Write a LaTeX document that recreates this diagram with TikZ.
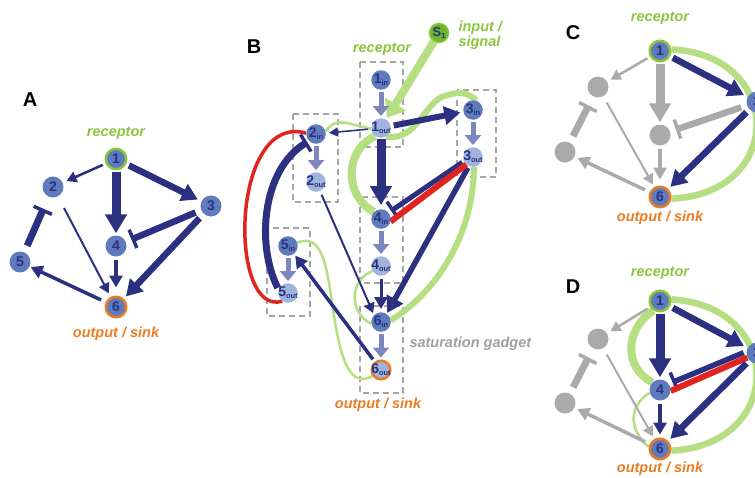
\documentclass[tikz,border=0pt]{standalone}
\usepackage{fontspec}
\setmainfont{Liberation Sans}
\setsansfont{Liberation Sans}
\usetikzlibrary{arrows.meta}
\definecolor{navy}{RGB}{43,49,128}
\definecolor{ablue}{RGB}{96,122,190}
\definecolor{inblue}{RGB}{96,122,190}
\definecolor{outblue}{RGB}{160,180,222}
\definecolor{numblue}{RGB}{38,52,128}
\definecolor{gadget}{RGB}{125,135,190}
\definecolor{lgreen}{RGB}{182,222,130}
\definecolor{tgreen}{RGB}{140,198,63}
\definecolor{sgreen}{RGB}{112,180,42}
\definecolor{orng}{RGB}{236,124,34}
\definecolor{redc}{RGB}{226,36,30}
\definecolor{greyc}{RGB}{170,170,170}
\definecolor{boxg}{RGB}{165,165,165}
\definecolor{txtgrey}{RGB}{160,160,160}
\pgfdeclarelayer{back}
\pgfdeclarelayer{mid}
\pgfsetlayers{back,mid,main}
\newcommand\sbx[1]{\raisebox{-2pt}{\fontsize{7.5}{7.5}\selectfont #1}}
\newcommand\nlab[2]{\makebox[0pt][c]{#1\sbx{#2}}}
\tikzset{
  nd/.style={circle, fill=ablue, minimum size=21pt, inner sep=0pt, text=numblue, font=\bfseries\fontsize{14}{14}\selectfont},
  ndi/.style={nd, fill=inblue, minimum size=19.5pt},
  ndo/.style={nd, fill=outblue, minimum size=19.5pt},
  gn/.style={circle, fill=greyc, minimum size=21pt, inner sep=0pt},
  recn/.style={nd, draw=tgreen, line width=2.5pt, minimum size=20.5pt},
  snkn/.style={nd, draw=orng, line width=2.5pt, minimum size=20.5pt},
  snko/.style={ndo, draw=orng, line width=2.5pt, minimum size=18.5pt},
  sig/.style={circle, fill=sgreen, draw=tgreen, line width=1.5pt, minimum size=19pt, inner sep=0pt, text=numblue, font=\bfseries\fontsize{13}{13}\selectfont},
  panel/.style={font=\bfseries\fontsize{20}{20}\selectfont, text=black},
  lbl/.style={font=\bfseries\itshape\fontsize{14.5}{16}\selectfont},
  lblg/.style={lbl, text=tgreen},
  lblo/.style={lbl, text=orng},
  lbls/.style={lbl, text=txtgrey},
  gbox/.style={draw=boxg, line width=2.5pt, dash pattern=on 6pt off 4pt},
  aT/.style={line width=2.2pt, -{Triangle[length=10pt,width=11pt]}, shorten <=3pt, shorten >=3pt},
  aM/.style={line width=3.5pt, -{Triangle[length=12pt,width=13pt]}, shorten <=3pt, shorten >=3pt},
  aK/.style={line width=6.5pt, -{Triangle[length=16pt,width=18pt]}, shorten <=3pt, shorten >=3pt},
  aX/.style={line width=9pt, -{Triangle[length=19pt,width=21pt]}, shorten <=1pt, shorten >=2pt},
  iK/.style={line width=6.5pt, -{Bar[width=20pt,line width=3.5pt]}, shorten <=6pt, shorten >=6pt},
  gad/.style={draw=gadget, line width=5pt, -{Triangle[length=10pt,width=16pt]}, shorten >=2pt, shorten <=2pt},
  gband/.style={draw=lgreen, line width=7pt},
  gthin/.style={draw=lgreen, line width=2.5pt},
  rband/.style={draw=redc, line width=6pt},
}
\begin{document}
\begin{tikzpicture}[x=1pt,y=-1pt]
\useasboundingbox (0,0) rectangle (755,477);
\begin{pgfonlayer}{back}
\fill[white] (0,0) rectangle (755,477);
\end{pgfonlayer}

%% ---------------- Panel A ----------------
\node[panel] (LA) at (30,100) {A};
\node[lblg] (rA) at (116,133) {receptor};
\node[recn] (A1) at (116,159) {1};
\node[nd] (A2) at (53,187) {2};
\node[nd] (A3) at (211,206) {3};
\node[nd] (A4) at (116,246) {4};
\node[nd] (A5) at (20,262) {5};
\node[snkn] (A6) at (116,307) {6};
\node[lblo] (oA) at (116,334) {output / sink};
\begin{pgfonlayer}{mid}
\draw[aT, navy, line width=2.5pt, shorten >=4pt] (A1) -- (A2);
\draw[aX, navy] (A1) -- (A4);
\draw[aK, navy, shorten >=4pt] (A1) -- (A3);
\draw[iK, navy] (A3) -- (A4);
\draw[aK, navy, shorten <=6pt] (A3) -- (A6);
\draw[aT, navy, line width=2pt, shorten <=13pt, shorten >=4pt] (A2) -- (A6);
\draw[aM, navy, shorten >=8pt] (A4) -- (A6);
\draw[aM, navy, shorten <=5pt, shorten >=1pt] (A6) -- (A5);
\draw[iK, navy, line width=7pt, shorten <=7pt, shorten >=13pt] (A5) -- (A2);
\end{pgfonlayer}

%% ---------------- Panel B ----------------
\node[panel] (LB) at (254,47) {B};
\node[sig] (S1) at (439,33) {\nlab{S}{1}};
\node[lblg, anchor=west, align=left] (sigl) at (455,35) {input /\\[-1pt]signal};
\node[lblg] (rB) at (382,49) {receptor};
\node[ndi] (B1i) at (381,80) {\nlab{1}{in}};
\node[ndo] (B1o) at (381,128) {\nlab{1}{out}};
\node[ndi] (B2i) at (316,134) {\nlab{2}{in}};
\node[ndo] (B2o) at (316,182) {\nlab{2}{out}};
\node[ndi] (B3i) at (473,110) {\nlab{3}{in}};
\node[ndo] (B3o) at (473,157) {\nlab{3}{out}};
\node[ndi] (B4i) at (381,219) {\nlab{4}{in}};
\node[ndo] (B4o) at (381,266) {\nlab{4}{out}};
\node[ndi] (B5i) at (288,246) {\nlab{5}{in}};
\node[ndo] (B5o) at (288,293) {\nlab{5}{out}};
\node[ndi] (B6i) at (381,322) {\nlab{6}{in}};
\node[snko] (B6o) at (381,370) {\nlab{6}{out}};
\node[lbls, anchor=west] (sat) at (406,344) {saturation gadget};
\node[lblo] (oB) at (378,405) {output / sink};
\begin{pgfonlayer}{back}
\draw[gbox] (360,62) rectangle (403,147);
\draw[gbox] (293,114) rectangle (338,202);
\draw[gbox] (457,90) rectangle (496,177);
\draw[gbox] (360,197) rectangle (403,283);
\draw[gbox] (267,228) rectangle (310,316);
\draw[gbox] (360,306) rectangle (403,393);
% green highlights
\draw[gband, line width=8pt, -{Triangle[length=16pt,width=24pt]}, shorten >=2pt] (S1) -- (B1o);
\draw[gband, line width=8pt] (B1o.235) .. controls (344,150) and (344,196) .. (B4i.135);
\draw[gband, line width=6pt] (B1o.300) .. controls (418,142) and (425,100) .. (445,96) .. controls (458,91) and (468,92) .. (B3i.70);
\draw[gband, line width=6pt] (B3o.275) .. controls (474,230) and (440,290) .. (B6i.10);
\draw[gthin] (B4o.210) .. controls (350,280) and (348,312) .. (B6i.190);
\draw[gthin] (B6o.215) .. controls (345,392) and (338,340) .. (333,310) .. controls (327,265) and (322,233) .. (B5i.20);
\draw[gthin] (B2i.15) .. controls (336,116) and (348,124) .. (B1o.185);
\end{pgfonlayer}
\begin{pgfonlayer}{mid}
\draw[gad] (B1i) -- (B1o);
\draw[gad] (B2i) -- (B2o);
\draw[gad] (B3i) -- (B3o);
\draw[gad] (B4i) -- (B4o);
\draw[gad] (B5i) -- (B5o);
\draw[gad] (B6i) -- (B6o);
\draw[aT, navy, line width=1.6pt, -{Triangle[length=9pt,width=9pt]}] (B1o) -- (B2i);
\draw[aK, navy, line width=6pt] (B1o) -- (B3i);
\draw[aX, navy, shorten >=4pt] (B1o) -- (B4i);
\draw[iK, navy, line width=5pt, shorten <=2pt, shorten >=3pt] (B3o.205) -- (B4i.40);
\draw[aK, navy, line width=5.5pt, shorten <=2pt, shorten >=1pt] (B3o.245) -- (B6i.55);
\draw[aT, navy, line width=2pt, shorten <=4pt, shorten >=2pt] (B2o) -- (B6i.135);
\draw[aM, navy, line width=3pt] (B4o) -- (B6i);
\draw[aM, navy, line width=3.5pt, shorten >=2pt] (B6o) -- (B5i);
\draw[iK, navy, line width=7pt, shorten <=2pt, shorten >=2pt] (B5o.160) .. controls (256,245) and (262,170) .. (B2i.225);
\draw[redc, line width=3.5pt] (B2i.175) .. controls (230,112) and (228,318) .. (B5o.235);
\draw[rband] (B3o.228) -- (B4i.345);
\end{pgfonlayer}

%% ---------------- Panel C ----------------
\node[panel] (LC) at (573,33) {C};
\node[lblg] (rC) at (660,18) {receptor};
\node[recn] (C1) at (660,51) {1};
\node[gn] (C2) at (598,87) {};
\node[nd] (C3) at (757,102) {3};
\node[gn] (C4) at (660,135) {};
\node[gn] (C5) at (565,152) {};
\node[snkn] (C6) at (660,197) {6};
\node[lblo] (oC) at (660,218) {output / sink};
\begin{pgfonlayer}{back}
\draw[gband, line width=6.5pt] (C1.8) .. controls (785,55) and (785,194) .. (C6.352);
\end{pgfonlayer}
\begin{pgfonlayer}{mid}
\draw[aT, greyc, line width=2.5pt, shorten >=4pt] (C1) -- (C2);
\draw[aX, greyc] (C1) -- (C4);
\draw[aK, navy, shorten >=4pt] (C1) -- (C3);
\draw[iK, greyc] (C3) -- (C4);
\draw[aK, navy, shorten <=4pt] (C3) -- (C6);
\draw[aT, greyc, line width=2pt, shorten <=7pt, shorten >=3pt] (C2) -- (C6);
\draw[aM, greyc, shorten >=6pt] (C4) -- (C6);
\draw[aM, greyc, shorten <=5pt, shorten >=3pt] (C6) -- (C5);
\draw[iK, greyc, line width=7pt, shorten <=7pt, shorten >=10pt] (C5) -- (C2);
\end{pgfonlayer}

%% ---------------- Panel D ----------------
\node[panel] (LD) at (573,287) {D};
\node[lblg] (rD) at (660,273) {receptor};
\node[recn] (D1) at (660,301) {1};
\node[gn] (D2) at (598,339) {};
\node[nd] (D3) at (757,353) {3};
\node[nd] (D4) at (660,390) {4};
\node[gn] (D5) at (565,403) {};
\node[snkn] (D6) at (660,449) {6};
\node[lblo] (oD) at (660,469) {output / sink};
\begin{pgfonlayer}{back}
\draw[gband, line width=6.5pt] (D1.8) .. controls (785,306) and (785,445) .. (D6.352);
\draw[gband, line width=8pt] (D1.235) .. controls (624,330) and (624,368) .. (D4.135);
\draw[gthin] (D4.195) .. controls (630,405) and (627,428) .. (D6.170);
\end{pgfonlayer}
\begin{pgfonlayer}{mid}
\draw[aT, greyc, line width=2.5pt, shorten >=4pt] (D1) -- (D2);
\draw[aX, navy] (D1) -- (D4);
\draw[aK, navy, shorten >=4pt] (D1) -- (D3);
\draw[iK, navy, line width=5.5pt, shorten <=3pt, shorten >=4pt] (D3.172) -- (D4.35);
\draw[rband] (D3.205) -- (D4.355);
\draw[aK, navy, shorten <=4pt] (D3) -- (D6);
\draw[aT, greyc, line width=2pt, shorten <=7pt, shorten >=3pt] (D2) -- (D6);
\draw[aM, navy, shorten >=3pt] (D4) -- (D6);
\draw[aM, greyc, shorten <=5pt, shorten >=3pt] (D6) -- (D5);
\draw[iK, greyc, line width=7pt, shorten <=7pt, shorten >=10pt] (D5) -- (D2);
\end{pgfonlayer}
\end{tikzpicture}
\end{document}
